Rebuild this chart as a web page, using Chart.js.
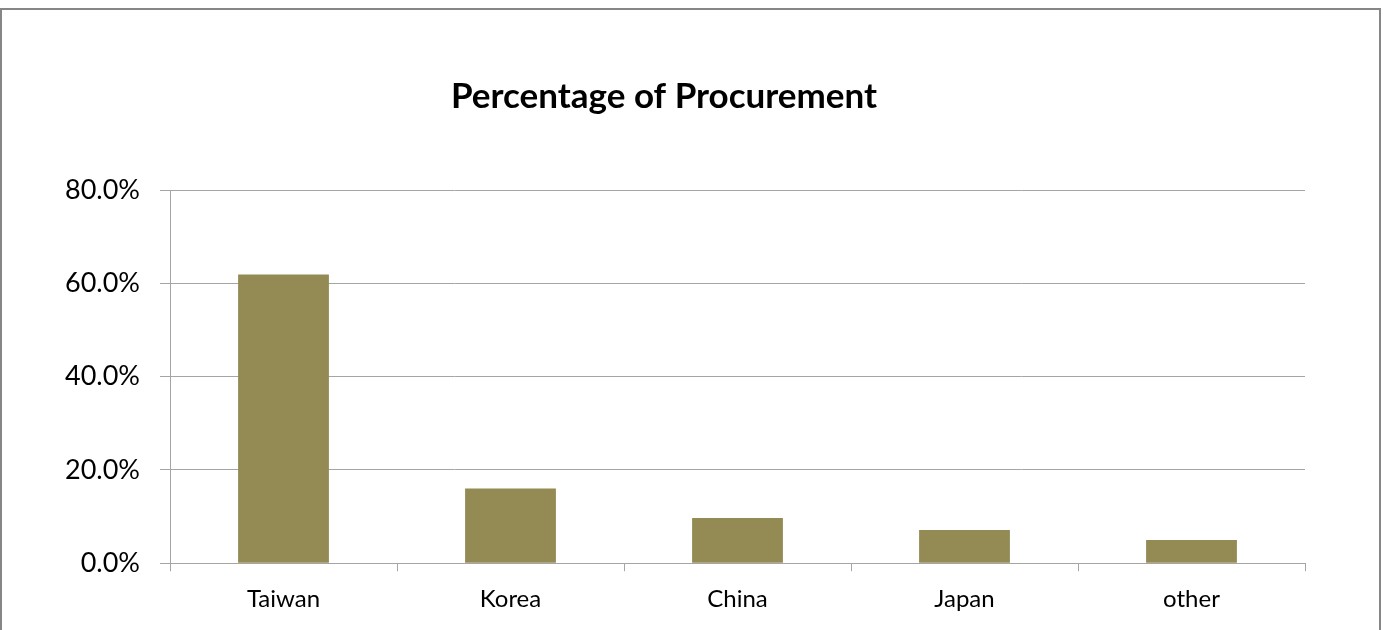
<!DOCTYPE html>
<html>
<head>
<meta charset="utf-8">
<title>Percentage of Procurement</title>
<script src="https://cdn.jsdelivr.net/npm/chart.js@4"></script>
<style>
  html, body { margin: 0; padding: 0; background: #fff; overflow: hidden; }
  #frame {
    position: absolute; left: 0; top: 8px;
    width: 1381px; height: 640px;
    box-sizing: border-box;
    border: 2px solid #868686; border-bottom: none;
  }
  #wrap { position: absolute; left: 0; top: 0; width: 1328px; height: 630px; }
</style>
</head>
<body>
<div id="frame"></div>
<div id="wrap"><canvas id="procChart"></canvas></div>
<script>
// share of procurement by source country (%)
const countries = ['Taiwan', 'Korea', 'China', 'Japan', 'other'];
const shares = [61.9, 16.0, 9.7, 7.1, 5.0];
const yTicks = [0, 20, 40, 60, 80];

const gridGray = '#a5a5a5';

const ctx = document.getElementById('procChart').getContext('2d');
new Chart(ctx, {
    type: 'bar',
    data: {
        labels: countries,
        datasets: [{
            data: shares,
            backgroundColor: '#948A54',
            borderWidth: 0,
            categoryPercentage: 1.0,
            barPercentage: 0.4
        }]
    },
    options: {
        responsive: true,
        maintainAspectRatio: false,
        animation: false,
        layout: { padding: { left: 23, right: 23, top: 0, bottom: 2 } },
        plugins: {
            legend: { display: false },
            tooltip: { enabled: false },
            title: {
                display: true,
                text: 'Percentage of Procurement',
                color: '#000',
                font: { family: 'Lato', size: 35, weight: 'bold' },
                padding: { top: 76, bottom: 72 }
            }
        },
        scales: {
            y: {
                min: yTicks[0],
                max: yTicks[yTicks.length - 1],
                afterBuildTicks: scale => {
                    scale.ticks = yTicks.map(v => ({ value: v }));
                },
                afterFit: scale => { scale.width = 147; },
                border: { display: true, color: gridGray, width: 1 },
                grid: { color: gridGray, lineWidth: 1, tickLength: 10, drawTicks: true },
                ticks: {
                    color: '#000',
                    padding: 20,
                    font: { family: 'Lato', size: 27 },
                    callback: value => value.toFixed(1) + '%'
                }
            },
            x: {
                border: { display: true, color: gridGray, width: 1 },
                grid: {
                    offset: true,
                    drawOnChartArea: false,
                    drawTicks: true,
                    tickLength: 8,
                    color: gridGray
                },
                ticks: {
                    color: '#000',
                    padding: 14,
                    maxRotation: 0,
                    font: { family: 'Lato', size: 24 }
                }
            }
        }
    }
});
</script>
</body>
</html>
